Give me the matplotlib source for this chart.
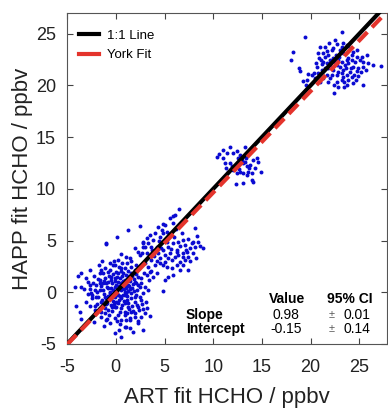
import numpy as np
import matplotlib
matplotlib.use("Agg")
import matplotlib.pyplot as plt
from matplotlib.lines import Line2D

plt.rcParams['font.family'] = ['Liberation Sans', 'DejaVu Sans']
plt.rcParams['axes.unicode_minus'] = False

# ART fit vs HAPP fit HCHO (ppbv), one list per cluster
low_pts = [
    (-0.97, 4.66), (-3.54, 1.89), (-3.88, 1.56), (-4.16, 0.53), (-3.61, 0.53), (-2.85, 1.02),
    (-2.68, 0.70), (-2.51, -0.11), (-2.44, -0.60), (-3.03, -0.92), (-3.71, -1.89), (-2.17, -1.72),
    (-2.24, -2.85), (-1.66, 1.82), (-1.49, 2.14), (-1.14, 2.31), (-0.63, 2.79), (-0.12, 2.63),
    (0.22, 3.11), (0.50, 3.69), (1.08, 3.43), (1.42, 3.27), (1.94, 4.24), (2.28, 3.92),
    (2.45, 3.60), (2.79, 4.72), (2.96, 4.40), (0.57, 2.30), (-0.46, 1.50), (-0.80, 1.02),
    (-1.31, 0.85), (-1.66, 0.21), (-1.83, -0.44), (-1.49, -0.92), (-0.97, -0.60), (-0.63, -0.11),
    (-0.29, 0.21), (-0.12, 0.53), (0.22, 1.02), (0.57, 0.85), (0.91, 1.18), (1.25, 1.50),
    (1.59, 1.82), (1.94, 2.14), (2.11, 2.63), (0.22, -0.27), (0.57, -0.60), (0.91, -1.08),
    (1.25, -1.40), (1.59, -1.89), (1.94, -2.37), (1.42, -2.69), (0.91, -2.21), (0.40, -1.89),
    (-0.12, -1.40), (-0.46, -1.24), (-0.80, -1.72), (-1.14, -2.05), (-1.49, -2.37), (-0.97, -2.69),
    (-0.12, -2.53), (0.57, -2.69), (1.08, -3.34), (1.42, -3.50), (1.77, -3.82), (-0.12, -3.98),
    (0.57, -4.37), (2.28, -3.01), (2.62, -2.37), (2.96, -2.05), (2.79, -3.66), (2.28, -1.40),
    (2.62, -0.76), (2.79, -0.11), (2.96, 0.53), (-0.80, 0.37), (-1.14, 1.34), (-1.66, 1.18),
    (-2.00, 0.70), (-2.17, 0.21), (-0.46, -0.60), (0.05, -0.92), (0.57, 0.21), (1.08, 0.37),
    (1.59, -0.11), (1.94, -0.44), (2.45, 0.53), (2.11, 0.85), (2.28, 1.50), (1.25, 0.70),
    (0.91, -0.27), (0.22, 1.82), (0.74, 1.82), (-0.12, 1.34), (-4.09, -1.34), (-3.61, -2.63),
    (-1.8, 1.3), (-1.5, 0.6), (-1.2, -0.2), (-1.0, 0.9), (-0.7, 1.6), (-0.5, 0.4),
    (-0.3, -0.8), (-0.1, 1.1), (0.1, -0.1), (0.3, 0.6), (0.4, 1.4), (0.6, -1.2),
    (0.8, 0.3), (1.0, 1.7), (1.1, -0.7), (1.3, 0.1), (1.5, 1.1), (1.7, -1.3),
    (1.8, 0.8), (2.0, -0.9), (2.2, 0.2), (2.4, -1.7), (-2.3, 0.9), (-2.0, -0.5),
    (-1.6, -1.5), (-1.3, 1.9), (-0.9, -1.0), (-0.6, 2.2), (-0.4, -1.8), (-0.2, 0.0),
    (0.0, 2.0), (0.2, -2.2), (0.5, 0.9), (0.7, -0.3), (0.9, 2.3), (1.2, -2.0),
    (1.4, 0.6), (1.6, 2.4), (1.9, 1.3), (2.1, -0.3), (2.6, 0.9), (2.7, -1.1),
    (-2.6, -1.3), (-1.9, -1.1), (-1.1, -1.5), (-0.8, -0.4), (-0.5, 1.2), (0.0, -1.4),
    (0.3, -0.7), (0.6, 1.6), (1.0, -0.1), (1.3, -1.0), (1.5, -2.5), (1.7, 0.4),
    (2.0, 1.0), (2.3, -2.8), (-0.3, 2.6), (-1.4, -0.7), (0.4, -3.1), (0.9, -3.4),
    (-0.6, -3.0), (1.1, 2.8), (-2.9, -0.2), (-3.3, 0.3), (3.2, -1.5), (3.5, -2.3),
    (3.1, -0.9),
    (-2.2, 1.6), (-2.4, -0.3), (-1.7, 2.6), (-1.5, -1.9), (-1.3, 0.2), (-1.2, 1.1),
    (-1.0, -1.1), (-0.9, 0.5), (-0.8, 2.0), (-0.7, -2.2), (-0.6, 0.0), (-0.5, -0.3),
    (-0.4, 0.9), (-0.3, 1.8), (-0.2, -1.1), (-0.1, -0.5), (0.0, 0.7), (0.1, 1.5),
    (0.2, 0.3), (0.3, 2.4), (0.4, -0.4), (0.5, -1.5), (0.6, 0.5), (0.7, 1.1),
    (0.8, -0.8), (0.9, 0.0), (1.0, 0.6), (1.1, 1.3), (1.2, -0.4), (1.3, 2.1),
    (1.4, -1.6), (1.5, 0.3), (1.6, -0.6), (1.7, 1.6), (1.8, -1.8), (1.9, 0.1),
    (2.0, -2.0), (2.1, 1.8), (2.2, -1.2), (2.3, 0.7), (2.5, -0.5), (2.6, 1.4),
    (2.8, -1.6), (-1.6, 0.9), (-1.1, -0.5), (-0.4, -1.4), (0.2, -1.0), (0.5, 2.1),
    (0.9, -1.9), (1.4, 1.6), (-2.7, 0.3), (-2.1, -1.3), (-1.9, 0.0), (0.1, -2.8),
    (1.0, -2.7), (-0.2, 3.0), (0.6, 2.8), (1.6, 3.0), (2.4, 2.4), (2.9, 1.9),
    (3.3, 0.2), (3.4, 1.2), (3.0, 2.8), (3.6, 2.1), (-1.2, -3.3), (-0.9, -2.6),
    (0.3, -3.6), (-3.1, 1.4), (-2.6, 2.2), (-1.4, 3.0),
]

arm_pts = [
    (6.52, 8.01), (6.08, 7.46), (5.56, 7.14), (5.91, 6.66), (5.05, 6.50), (4.37, 6.34),
    (4.03, 5.69), (3.51, 5.53), (3.17, 5.21), (2.83, 4.89), (3.34, 4.72), (3.85, 5.05),
    (4.54, 5.37), (4.88, 5.69), (5.22, 5.85), (4.71, 4.89), (4.20, 4.40), (3.68, 4.08),
    (3.17, 3.76), (4.37, 3.76), (4.88, 4.08), (5.39, 4.40), (5.91, 4.72), (6.42, 4.89),
    (6.93, 5.05), (7.45, 5.11), (7.96, 4.89), (8.47, 4.89), (8.13, 4.40), (7.62, 4.24),
    (7.28, 3.92), (6.86, 3.76), (6.42, 3.60), (6.08, 3.43), (5.74, 3.11), (5.39, 3.27),
    (5.05, 2.95), (4.88, 2.63), (4.54, 2.79), (5.22, 2.47), (5.74, 2.31), (6.25, 2.63),
    (6.59, 2.95), (7.10, 3.11), (7.45, 3.43), (7.96, 3.76), (8.30, 5.43), (8.13, 6.17),
    (8.99, 4.24), (8.64, 4.47), (7.45, 2.14), (6.59, 2.14), (5.91, 1.66), (5.39, 1.50),
    (5.05, 1.18), (4.20, 1.82), (3.85, 1.50), (3.51, 1.98), (3.17, 1.66), (4.88, 0.15),
    (2.66, 3.76), (2.76, 4.40), (6.76, 5.69), (7.10, 4.56), (7.79, 4.72), (6.25, 4.08),
    (5.56, 3.76), (4.54, 3.27), (4.03, 2.63), (3.58, 3.11), (1.22, 6.01), (0.09, 5.37),
    (-1.01, 4.72), (2.48, 6.40), (4.88, 6.59), (5.90, 7.37),
    (3.3, 2.4), (3.9, 3.5), (4.2, 3.0), (4.6, 4.3), (5.0, 3.6), (5.3, 4.9),
    (5.7, 4.2), (6.0, 5.3), (6.3, 3.9), (6.6, 4.5), (6.9, 3.4), (7.2, 4.1),
    (4.4, 5.0), (3.6, 4.4), (5.5, 5.6), (6.2, 6.1), (4.7, 6.0), (7.6, 3.0),
    (8.2, 3.3), (6.9, 2.6),
]

mid_pts = [
    (10.42, 13.11), (10.97, 13.75), (11.38, 13.49), (11.72, 14.01), (12.00, 13.49), (12.41, 13.62),
    (11.04, 12.95), (11.21, 12.46), (11.72, 12.46), (11.31, 11.98), (11.55, 11.65), (11.79, 11.88),
    (12.13, 12.14), (12.58, 12.95), (12.75, 13.27), (12.92, 12.78), (13.09, 12.46), (13.26, 12.62),
    (13.44, 12.20), (13.78, 12.30), (13.61, 11.65), (13.95, 11.49), (13.44, 11.33), (13.09, 11.49),
    (12.75, 11.65), (12.41, 11.49), (12.07, 11.82), (14.12, 12.78), (14.46, 12.95), (14.63, 12.62),
    (14.87, 11.65), (13.95, 10.85), (14.12, 10.69), (13.09, 10.53), (12.34, 10.46), (12.68, 11.88),
    (11.90, 12.20), (13.71, 11.98), (14.29, 11.98), (13.37, 12.95), (10.63, 13.36), (13.26, 14.07),
]

high_pts = [
    (19.43, 24.65), (23.26, 25.13), (18.23, 23.26), (18.02, 22.42), (18.78, 21.65), (18.91, 21.43),
    (19.19, 20.46), (19.60, 20.52), (19.53, 20.01), (20.45, 20.68), (20.35, 21.17), (20.80, 21.23),
    (20.62, 21.81), (20.90, 22.62), (20.80, 23.10), (20.97, 23.75), (21.48, 23.75), (21.92, 24.13),
    (21.65, 23.36), (21.82, 22.94), (22.16, 23.42), (22.33, 23.59), (22.68, 23.97), (21.31, 22.30),
    (21.14, 22.04), (21.65, 22.13), (21.99, 22.46), (22.33, 22.62), (22.61, 22.94), (22.85, 22.46),
    (23.19, 22.30), (23.36, 24.07), (23.70, 23.91), (24.05, 23.59), (24.39, 23.26), (24.73, 23.42),
    (25.07, 22.46), (25.41, 22.30), (25.76, 22.94), (25.93, 22.13), (26.37, 21.97), (27.19, 21.91),
    (25.35, 20.04), (24.90, 20.91), (24.73, 21.43), (24.90, 21.65), (24.39, 21.81), (24.05, 21.33),
    (23.70, 21.01), (23.36, 20.84), (23.19, 20.52), (23.70, 20.04), (22.68, 20.36), (22.40, 20.04),
    (22.44, 19.30), (21.99, 20.68), (21.65, 21.01), (21.31, 20.68), (20.97, 20.36), (21.14, 21.49),
    (22.33, 21.49), (22.85, 21.33), (23.19, 21.17), (23.53, 21.97), (23.87, 22.62), (24.22, 22.46),
    (23.02, 21.81), (22.68, 21.97), (22.16, 21.81), (21.82, 21.65), (24.56, 22.30), (25.14, 21.33),
    (24.66, 20.52), (23.87, 20.52), (23.43, 20.36), (23.87, 22.13), (23.36, 23.10), (23.02, 23.42),
    (21.48, 22.71), (21.03, 22.46), (21.99, 22.13), (22.50, 22.30), (22.95, 22.78), (23.29, 21.49),
    (23.64, 21.65), (24.11, 21.65), (24.46, 21.01), (24.22, 20.84), (22.68, 21.01), (22.16, 21.01),
    (21.82, 20.36), (22.85, 19.88), (23.43, 19.81), (24.32, 20.20), (21.24, 23.10), (21.48, 21.65),
    (20.55, 22.13), (20.11, 21.01), (19.77, 21.10), (25.41, 21.81), (25.65, 21.49), (25.24, 22.78),
    (24.73, 22.78), (24.22, 22.94), (23.19, 23.75), (22.50, 24.39), (23.70, 22.46),
]

york_slope = 0.98
york_intercept = -0.15
slope_ci = 0.01
intercept_ci = 0.14

ticks = [-5, 0, 5, 10, 15, 20, 25]

fig = plt.figure(figsize=(3.88, 4.09), dpi=100)
ax = fig.add_axes([67.1 / 388, 65 / 409, 320 / 388, 331 / 409])

for pts in (low_pts, arm_pts, mid_pts, high_pts):
    xs = [p[0] for p in pts]
    ys = [p[1] for p in pts]
    ax.scatter(xs, ys, s=8, color='#0a0ad2', linewidths=0, zorder=2)

xl = np.array([-5, 30])
ax.plot(xl, xl, color='black', lw=3, zorder=3, solid_capstyle='butt')
ax.plot(xl, york_slope * xl + york_intercept, color='#e4342c', lw=3,
        dashes=(3.2, 1.6), zorder=4)

ax.set_xlim(-5, 27.85)
ax.set_ylim(-5, 27)
ax.set_xticks(ticks)
ax.set_yticks(ticks)
ax.tick_params(direction='in', length=4, width=0.8, color='#444444',
               top=True, right=True, labelsize=13, labelcolor='#222222')
ax.tick_params(axis='x', pad=11)
ax.tick_params(axis='y', pad=8)
for sp in ax.spines.values():
    sp.set_color('#555555')
    sp.set_linewidth(0.8)

ax.set_xlabel('ART fit HCHO / ppbv', fontsize=16, color='#222222', labelpad=8)
ax.set_ylabel('HAPP fit HCHO / ppbv', fontsize=16, color='#222222', labelpad=2)

handles = [Line2D([], [], color='black', lw=3),
           Line2D([], [], color='#e4342c', lw=3)]
ax.legend(handles, ['1:1 Line', 'York Fit'], loc='upper left', frameon=False,
          fontsize=9.5, handlelength=1.5, handletextpad=0.6, labelspacing=0.55,
          borderaxespad=0.4, bbox_to_anchor=(0.004, 0.982))

# fit summary table
ax.text(17.58, -0.66, 'Value', ha='center', va='center', fontsize=10, fontweight='bold')
ax.text(24.05, -0.66, '95% CI', ha='center', va='center', fontsize=10, fontweight='bold')
ax.text(7.2, -2.2, 'Slope', ha='left', va='center', fontsize=10, fontweight='bold')
ax.text(7.2, -3.56, 'Intercept', ha='left', va='center', fontsize=10, fontweight='bold')
ax.text(17.5, -2.2, '%.2f' % york_slope, ha='center', va='center', fontsize=10)
ax.text(17.5, -3.56, '%.2f' % york_intercept, ha='center', va='center', fontsize=10)
ax.text(22.2, -2.2, '\u00b1', ha='center', va='center', fontsize=8, color='#555555')
ax.text(22.2, -3.56, '\u00b1', ha='center', va='center', fontsize=8, color='#555555')
ax.text(24.8, -2.2, '%.2f' % slope_ci, ha='center', va='center', fontsize=10)
ax.text(24.8, -3.56, '%.2f' % intercept_ci, ha='center', va='center', fontsize=10)

fig.savefig('out.png', dpi=100)
